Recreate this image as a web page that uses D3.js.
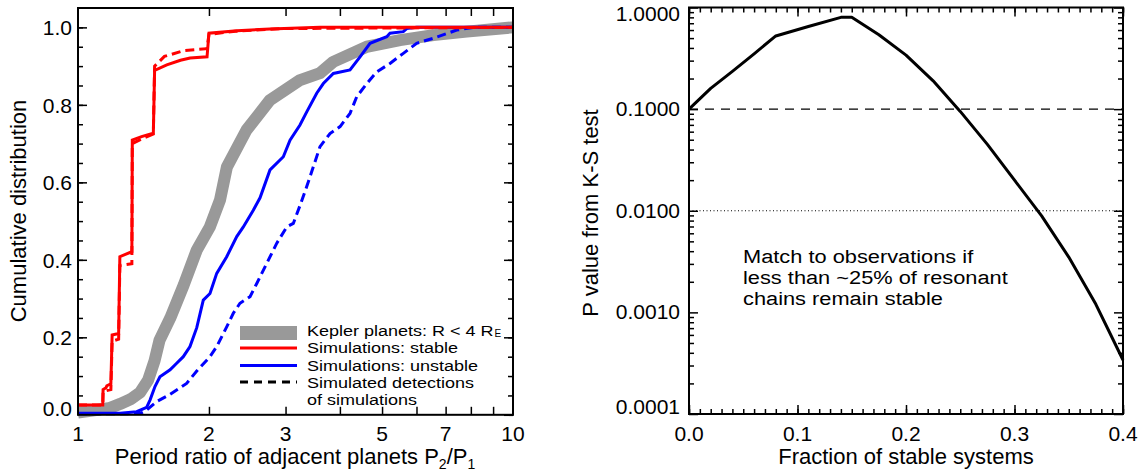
<!DOCTYPE html>
<html><head><meta charset="utf-8">
<script src="https://cdn.jsdelivr.net/npm/d3@7"></script>
<style>html,body{margin:0;padding:0;background:#fff}svg{display:block}</style>
</head><body>
<svg id="c" width="1142" height="474"></svg>
<script>
// ---------- LEFT PANEL DATA (cumulative distributions of period ratio) ----------
const keplerRatio = [1.00,1.10,1.185,1.25,1.32,1.39,1.45,1.50,1.54,1.63,1.75,1.875,2.01,2.12,2.20,2.44,2.76,3.24,3.60,3.86,4.61,5.50,6.56,7.83,10];
const keplerCdf   = [0.006,0.012,0.018,0.028,0.040,0.058,0.090,0.140,0.193,0.250,0.335,0.425,0.485,0.554,0.640,0.735,0.812,0.864,0.882,0.911,0.950,0.967,0.980,0.989,1.0];

const stableRatio = [1.00,1.14,1.142,1.16,1.165,1.19,1.198,1.24,1.248,1.33,1.333,1.40,1.49,1.50,1.60,1.72,1.81,1.98,2.00,2.32,2.76,3.60,10];
const stableCdf   = [0.025,0.025,0.065,0.070,0.075,0.080,0.206,0.210,0.408,0.421,0.709,0.718,0.727,0.889,0.903,0.915,0.921,0.924,0.985,0.991,0.996,1.0,1.0];

const stableDetRatio = [1.00,1.14,1.142,1.19,1.198,1.24,1.248,1.33,1.333,1.40,1.49,1.50,1.58,1.75,1.98,2.00,2.30,3.00,10];
const stableDetCdf   = [0.025,0.025,0.060,0.065,0.190,0.195,0.385,0.390,0.700,0.712,0.725,0.900,0.925,0.940,0.945,0.982,0.990,0.997,1.0];

const unstableRatio = [1.00,1.25,1.364,1.438,1.464,1.503,1.543,1.628,1.686,1.746,1.809,1.875,1.941,2.011,2.084,2.197,2.317,2.399,2.529,2.621,2.763,2.965,3.072,3.238,3.356,3.538,3.664,3.864,4.22,4.45,4.692,5.126,5.215,5.596,5.697,6.006,10];
const unstableCdf   = [0.004,0.004,0.008,0.019,0.038,0.073,0.098,0.116,0.133,0.150,0.176,0.225,0.296,0.313,0.365,0.408,0.460,0.485,0.528,0.560,0.632,0.666,0.709,0.748,0.782,0.830,0.855,0.881,0.890,0.924,0.959,0.976,0.985,0.989,0.997,1.0,1.0];

const unstableDetRatio = [1.00,1.30,1.40,1.438,1.517,1.628,1.777,1.875,2.011,2.084,2.197,2.275,2.357,2.486,2.576,2.716,2.864,3.02,3.126,3.238,3.356,3.475,3.60,3.796,4.004,4.22,4.373,4.611,4.861,5.215,5.596,6.006,6.56,7.041,7.423,8.105,10];
const unstableDetCdf   = [0.003,0.003,0.005,0.012,0.034,0.053,0.081,0.113,0.150,0.176,0.227,0.262,0.288,0.305,0.339,0.391,0.443,0.485,0.494,0.540,0.589,0.640,0.692,0.726,0.744,0.778,0.821,0.855,0.885,0.907,0.933,0.959,0.972,0.984,0.993,1.0,1.0];

const leftXTicks = [1,2,3,5,7,10];
const leftXMinor = [2,3,4,5,6,7,8,9];
const leftYTicks = [0,0.2,0.4,0.6,0.8,1.0];

const legendLabels = ["Kepler planets: R < 4 R","Simulations: stable","Simulations: unstable","Simulated detections","of simulations"];

// ---------- RIGHT PANEL DATA (K-S test p value) ----------
const stableFraction = [0,0.02,0.04,0.06,0.08,0.11,0.14,0.15,0.175,0.2,0.225,0.25,0.275,0.3,0.325,0.35,0.375,0.4];
const pValue         = [0.1,0.16,0.235,0.35,0.525,0.65,0.80,0.80,0.54,0.34,0.19,0.095,0.045,0.020,0.0089,0.0035,0.0012,0.00034];

const rightYTicks = [1e-4,1e-3,1e-2,1e-1,1];
const rightYLabels = ["0.0001","0.0010","0.0100","0.1000","1.0000"];
const rightXTicks = [0,0.1,0.2,0.3,0.4];
const noteLines = ["Match to observations if","less than ~25% of resonant","chains remain stable"];

// ---------- DRAWING ----------
const FONT = "'Liberation Sans', Arial, Helvetica, sans-serif";
const svg = d3.select("#c").style("font-family", FONT);

const xL = d3.scaleLog().domain([1,10]).range([78,513]);
const yL = d3.scaleLinear().domain([0,1.05]).range([414.8,8]);
const xR = d3.scaleLinear().domain([0,0.4]).range([689,1123]);
const yR = d3.scaleLog().domain([1e-4,1]).range([414,7.5]);

function cleanAxis(g){ g.select(".domain").remove(); g.selectAll("text").remove(); g.selectAll("line").attr("stroke","#000").attr("stroke-width",1.5); }

// text whose width is that of a wider font, drawn at a smaller height
function fitText(sel, wideSize, size){
  sel.attr("font-size", wideSize);
  const w = sel.node().getComputedTextLength();
  sel.attr("font-size", size).attr("textLength", w).attr("lengthAdjust","spacingAndGlyphs");
  return sel;
}

// ---- left panel ticks
const yMinorL = d3.range(0,21).map(i=>i*0.05);
svg.append("g").attr("transform","translate(78,0)").call(d3.axisLeft(yL).tickValues(leftYTicks).tickSize(-9)).call(cleanAxis);
svg.append("g").attr("transform","translate(78,0)").call(d3.axisLeft(yL).tickValues(yMinorL).tickSize(-5)).call(cleanAxis);
svg.append("g").attr("transform","translate(513,0)").call(d3.axisRight(yL).tickValues(leftYTicks).tickSize(-9)).call(cleanAxis);
svg.append("g").attr("transform","translate(513,0)").call(d3.axisRight(yL).tickValues(yMinorL).tickSize(-5)).call(cleanAxis);
svg.append("g").attr("transform","translate(0,414.8)").call(d3.axisBottom(xL).tickValues(leftXMinor).tickSize(-8)).call(cleanAxis);
svg.append("g").attr("transform","translate(0,8)").call(d3.axisTop(xL).tickValues(leftXMinor).tickSize(-8)).call(cleanAxis);

// ---- left panel curves
const lineL = d3.line().x(d=>xL(d[0])).y(d=>yL(d[1]));
svg.append("path").attr("d", lineL(d3.zip(keplerRatio,keplerCdf)))
  .attr("fill","none").attr("stroke","#999999").attr("stroke-width",12).attr("stroke-linejoin","round");
svg.append("path").attr("d", lineL(d3.zip(unstableDetRatio,unstableDetCdf)))
  .attr("fill","none").attr("stroke","#0000ff").attr("stroke-width",3).attr("stroke-dasharray","9,5");
svg.append("path").attr("d", lineL(d3.zip(unstableRatio,unstableCdf)))
  .attr("fill","none").attr("stroke","#0000ff").attr("stroke-width",3);
svg.append("path").attr("d", lineL(d3.zip(stableDetRatio,stableDetCdf)))
  .attr("fill","none").attr("stroke","#ff0000").attr("stroke-width",3).attr("stroke-dasharray","9,5");
svg.append("path").attr("d", lineL(d3.zip(stableRatio,stableCdf)))
  .attr("fill","none").attr("stroke","#ff0000").attr("stroke-width",3);

svg.append("rect").attr("x",78).attr("y",8).attr("width",435).attr("height",406.8)
  .attr("fill","none").attr("stroke","#000").attr("stroke-width",2);

// left tick labels
svg.append("g").selectAll("text").data(leftYTicks).join("text")
  .attr("x",72).attr("y",d=>Math.min(yL(d)+8,416)).attr("text-anchor","end")
  .attr("font-size",21).text(d=>d3.format(".1f")(d));
svg.append("g").selectAll("text").data(leftXTicks).join("text")
  .attr("x",d=>xL(d)).attr("y",441).attr("text-anchor","middle")
  .attr("font-size",21).text(d=>d);

// left axis titles
const xt = svg.append("text").attr("x",295).attr("y",464).attr("text-anchor","middle").attr("font-size",22);
xt.append("tspan").text("Period ratio of adjacent planets P");
xt.append("tspan").attr("font-size",14).attr("dy",5).text("2");
xt.append("tspan").attr("dy",-5).text("/P");
xt.append("tspan").attr("font-size",14).attr("dy",5).text("1");
svg.append("text").attr("transform","translate(26,211) rotate(-90)").attr("text-anchor","middle")
  .attr("font-size",22).text("Cumulative distribution");

// legend
const lgY = [335.5,353,370.5,388,405.3];
const lg = svg.append("g");
lg.append("rect").attr("x",240).attr("y",326).attr("width",57).attr("height",14).attr("fill","#999999");
lg.append("line").attr("x1",240).attr("x2",297).attr("y1",lgY[1]-5).attr("y2",lgY[1]-5).attr("stroke","#ff0000").attr("stroke-width",3);
lg.append("line").attr("x1",240).attr("x2",297).attr("y1",lgY[2]-5).attr("y2",lgY[2]-5).attr("stroke","#0000ff").attr("stroke-width",3);
lg.append("line").attr("x1",240).attr("x2",297).attr("y1",lgY[3]-6).attr("y2",lgY[3]-6).attr("stroke","#000").attr("stroke-width",3).attr("stroke-dasharray","8,6");
legendLabels.forEach((t,i)=>{
  const tx = lg.append("text").attr("x",307).attr("y",lgY[i]).text(t);
  fitText(tx, 18, 15.5);
  if(i===0){
    lg.append("text").attr("x",307+tx.node().getAttribute("textLength")*1+1).attr("y",lgY[i]+1.5)
      .attr("font-size",10).text("E");
  }
});

// ---- right panel ticks
const yMinorR = [];
[1e-4,1e-3,1e-2,1e-1].forEach(d=>{ for(let k=2;k<=9;k++) yMinorR.push(d*k); });
const xMinorR = d3.range(0,41).map(i=>i/100);
svg.append("g").attr("transform","translate(689,0)").call(d3.axisLeft(yR).tickValues(rightYTicks).tickSize(-9)).call(cleanAxis);
svg.append("g").attr("transform","translate(689,0)").call(d3.axisLeft(yR).tickValues(yMinorR).tickSize(-5)).call(cleanAxis);
svg.append("g").attr("transform","translate(1123,0)").call(d3.axisRight(yR).tickValues(rightYTicks).tickSize(-9)).call(cleanAxis);
svg.append("g").attr("transform","translate(1123,0)").call(d3.axisRight(yR).tickValues(yMinorR).tickSize(-5)).call(cleanAxis);
svg.append("g").attr("transform","translate(0,414)").call(d3.axisBottom(xR).tickValues(rightXTicks).tickSize(-9)).call(cleanAxis);
svg.append("g").attr("transform","translate(0,414)").call(d3.axisBottom(xR).tickValues(xMinorR).tickSize(-5)).call(cleanAxis);
svg.append("g").attr("transform","translate(0,7.5)").call(d3.axisTop(xR).tickValues(rightXTicks).tickSize(-9)).call(cleanAxis);
svg.append("g").attr("transform","translate(0,7.5)").call(d3.axisTop(xR).tickValues(xMinorR).tickSize(-5)).call(cleanAxis);

// reference lines
svg.append("line").attr("x1",xR(0)).attr("x2",xR(0.4)).attr("y1",yR(0.1)).attr("y2",yR(0.1))
  .attr("stroke","#000").attr("stroke-width",1.3).attr("stroke-dasharray","9,7");
svg.append("line").attr("x1",xR(0)).attr("x2",xR(0.4)).attr("y1",yR(0.01)).attr("y2",yR(0.01))
  .attr("stroke","#000").attr("stroke-width",1.2).attr("stroke-dasharray","1,2.5");

const lineR = d3.line().x(d=>xR(d[0])).y(d=>yR(d[1]));
svg.append("path").attr("d", lineR(d3.zip(stableFraction,pValue)))
  .attr("fill","none").attr("stroke","#000").attr("stroke-width",3).attr("stroke-linejoin","round");

svg.append("rect").attr("x",689).attr("y",7.5).attr("width",434).attr("height",406.5)
  .attr("fill","none").attr("stroke","#000").attr("stroke-width",2);

// right labels
svg.append("g").selectAll("text").data(rightYTicks).join("text")
  .attr("x",680).attr("y",d=>Math.max(21,Math.min(yR(d)+7,414))).attr("text-anchor","end")
  .attr("font-size",21).text((d,i)=>rightYLabels[i]);
svg.append("g").selectAll("text").data(rightXTicks).join("text")
  .attr("x",d=>xR(d)).attr("y",440.5).attr("text-anchor","middle")
  .attr("font-size",21).text(d=>d3.format(".1f")(d));

svg.append("text").attr("x",906).attr("y",464).attr("text-anchor","middle").attr("font-size",22)
  .text("Fraction of stable systems");
svg.append("text").attr("transform","translate(598,213) rotate(-90)").attr("text-anchor","middle")
  .attr("font-size",22).text("P value from K-S test");

// annotation
noteLines.forEach((t,i)=>{
  const tx = svg.append("text").attr("x",743).attr("y",262.5+i*21).text(t);
  fitText(tx, 21.8, 18.8);
});
</script></body></html>
